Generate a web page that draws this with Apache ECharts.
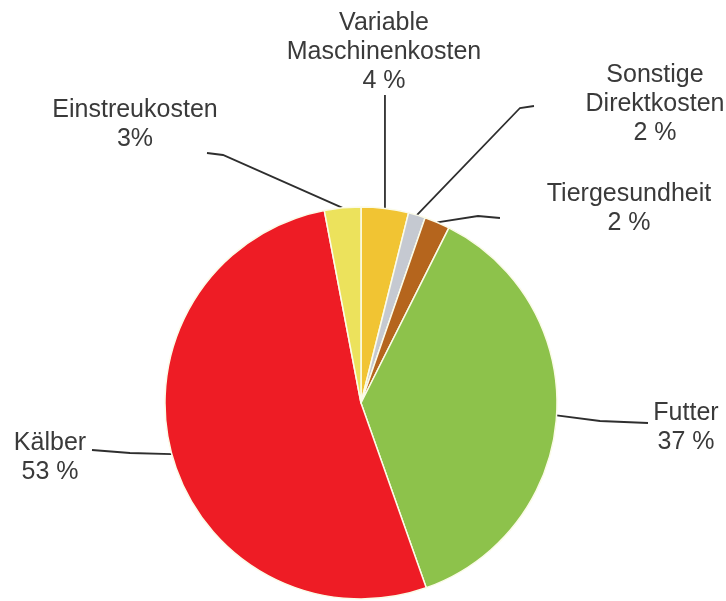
<!DOCTYPE html>
<html><head><meta charset="utf-8">
<script src="https://cdn.jsdelivr.net/npm/echarts@6/dist/echarts.min.js"></script>
<style>html,body{margin:0;padding:0;background:#fff}#c{width:726px;height:601px}</style>
</head><body><div id="c"></div>
<script>
// Data
const categories = ['Variable Maschinenkosten', 'Sonstige Direktkosten', 'Tiergesundheit', 'Futter', 'Kälber', 'Einstreukosten'];
const labelNames = ['Variable\nMaschinenkosten', 'Sonstige\nDirektkosten', 'Tiergesundheit', 'Futter', 'Kälber', 'Einstreukosten'];
const values = [3.9, 1.4, 2.1, 37.2, 52.4, 3.0];
const percentLabels = ['4 %', '2 %', '2 %', '37 %', '53 %', '3%'];

// Styles
const colors = ['#f1c433', '#c5c9d1', '#b5651d', '#8dc24b', '#ee1c25', '#ece25c'];
const labelLayouts = [
  { x: 384, y: 52,  bend: null,       end: [384, 95] },
  { x: 655, y: 104, bend: [520, 108], end: [534, 106] },
  { x: 629, y: 209, bend: [478, 216], end: [500, 218] },
  { x: 686, y: 428, bend: [600, 421], end: [648, 423] },
  { x: 50,  y: 458, bend: [130, 453], end: [92, 450] },
  { x: 135, y: 125, bend: [223, 155], end: [207, 153] }
];

const chart = echarts.init(document.getElementById('c'), null, { renderer: 'canvas' });
chart.setOption({
  backgroundColor: '#ffffff',
  animation: false,
  series: [{
    type: 'pie',
    center: [361, 403],
    radius: 196,
    startAngle: 90,
    clockwise: true,
    avoidLabelOverlap: false,
    data: categories.map((c, i) => ({ name: c, value: values[i], itemStyle: { color: colors[i] } })),
    itemStyle: { borderColor: '#fbfbe8', borderWidth: 1.5 },
    label: {
      show: true,
      position: 'outside',
      formatter: p => labelNames[p.dataIndex] + '\n' + percentLabels[p.dataIndex],
      fontFamily: 'Liberation Sans, Arial, sans-serif',
      fontSize: 25,
      lineHeight: 29,
      color: '#3a3a3a',
      align: 'center'
    },
    labelLine: {
      show: true,
      length: 20,
      length2: 20,
      lineStyle: { color: '#2e2e2e', width: 1.8 }
    },
    labelLayout: function (params) {
      const L = labelLayouts[params.dataIndex];
      const out = { x: L.x, y: L.y, align: 'center', verticalAlign: 'middle' };
      if (params.labelLinePoints && params.labelLinePoints.length) {
        const s = params.labelLinePoints[0];
        const start = [s[0], s[1]];
        const bend = L.bend ? L.bend : [start[0], (start[1] + L.end[1]) / 2];
        const end = L.bend ? L.end : [start[0], L.end[1]];
        out.labelLinePoints = [start, bend, end];
      }
      return out;
    }
  }]
});
</script>
</body></html>
